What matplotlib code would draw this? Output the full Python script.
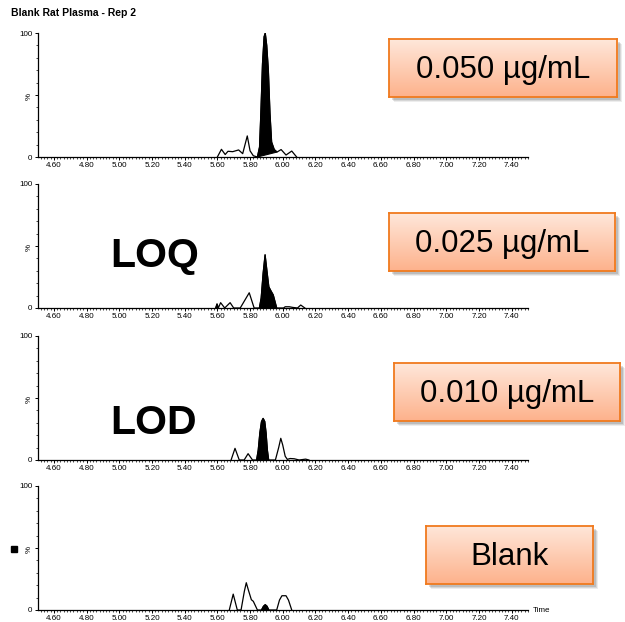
"""Stacked chromatograms (0.050 / 0.025 / 0.010 ug/mL and blank) in rat plasma."""
import numpy as np
import matplotlib
matplotlib.use("Agg")
import matplotlib.pyplot as plt
from matplotlib.colors import LinearSegmentedColormap
from matplotlib.patches import Rectangle

plt.rcParams["font.family"] = ["Liberation Sans", "DejaVu Sans"]

W, H = 625, 622

TITLE = "Blank Rat Plasma - Rep 2"
X_TICKS = [4.6, 4.8, 5.0, 5.2, 5.4, 5.6, 5.8, 6.0, 6.2, 6.4, 6.6, 6.8, 7.0, 7.2, 7.4]
X_TICK_LABELS = ["4.60", "4.80", "5.00", "5.20", "5.40", "5.60", "5.80", "6.00",
                 "6.20", "6.40", "6.60", "6.80", "7.00", "7.20", "7.40"]

# retention time (min) and relative intensity (%)
t_050 = [5.600, 5.625, 5.648, 5.665, 5.694, 5.730, 5.755, 5.783, 5.800, 5.820,
         5.845, 5.858, 5.866, 5.876, 5.886, 5.893, 5.902, 5.912, 5.922, 5.932,
         5.948, 5.965, 5.990, 6.020, 6.055, 6.085]
y_050 = [0, 6.2, 2, 4.6, 4.3, 5.7, 2.7, 17, 5, 1,
         0, 8, 35, 75, 97, 100, 90, 70, 35, 12,
         6, 4, 6, 1.6, 4.8, 0]
peaks_050 = [(5.845, 5.965)]

t_025 = [5.590, 5.598, 5.606, 5.620, 5.645, 5.678, 5.700, 5.740, 5.795, 5.825,
         5.857, 5.868, 5.880, 5.892, 5.905, 5.915, 5.927, 5.942, 5.963, 6.005,
         6.015, 6.040, 6.060, 6.090, 6.110, 6.135]
y_025 = [0, 3.3, 0, 4.3, 0, 4.3, 0, 0, 12.3, 0,
         0, 8, 28, 43, 28, 17, 14, 10.5, 0, 0,
         1, 1, 0.5, 0, 2.4, 0]
peaks_025 = [(5.590, 5.606), (5.857, 5.963)]

t_010 = [5.684, 5.708, 5.734, 5.764, 5.788, 5.815, 5.840, 5.850, 5.860, 5.870,
         5.880, 5.890, 5.898, 5.906, 5.914, 5.955, 5.975, 5.988, 6.000, 6.015,
         6.028, 6.045, 6.070, 6.100, 6.140, 6.160]
y_010 = [0, 9.4, 0, 0, 5.1, 0, 0, 8, 22, 31,
         33.6, 31, 22, 8, 0, 0, 10, 17.5, 12, 3,
         0.5, 1.2, 1, 0, 0.7, 0]
peaks_010 = [(5.840, 5.914)]

t_blank = [5.673, 5.697, 5.722, 5.745, 5.765, 5.777, 5.790, 5.808, 5.820, 5.845,
           5.870, 5.882, 5.893, 5.904, 5.915, 5.963, 5.980, 5.995, 6.020, 6.035,
           6.055]
y_blank = [0, 12.8, 0, 0, 15, 22, 16, 8.3, 7, 0,
           0, 3, 4.3, 3, 0, 0, 8, 11.5, 11.5, 8,
           0]
peaks_blank = [(5.870, 5.915)]

CONC_LABELS = ["0.050 µg/mL", "0.025 µg/mL", "0.010 µg/mL", "Blank"]
LIMIT_LABELS = ["", "LOQ", "LOD", ""]

TRACES = [(t_050, y_050, peaks_050), (t_025, y_025, peaks_025),
          (t_010, y_010, peaks_010), (t_blank, y_blank, peaks_blank)]

# pixel layout: (y of 0 %, y of 100 %) for each panel, plus label boxes
PANEL_Y = [(157, 33), (308, 184), (460, 336), (610, 486)]
AX_X = (37.5, 528)
BOXES = [(389, 39, 617, 97), (389, 213, 615, 271), (394, 363, 620, 421), (426, 526, 593, 584)]
LIMIT_POS = [None, (155, 267), (154, 434), None]


def px_rect(x0, y0, x1, y1):
    return [x0 / W, 1 - y1 / H, (x1 - x0) / W, (y1 - y0) / H]


fig = plt.figure(figsize=(W / 100, H / 100), dpi=100)

for i, (t, y, peaks) in enumerate(TRACES):
    y0, y1 = PANEL_Y[i]
    ax = fig.add_axes(px_rect(AX_X[0], y1, AX_X[1], y0))
    t = np.asarray(t)
    y = np.asarray(y)
    ax.plot(t, y, color="black", lw=0.9, solid_joinstyle="round")
    for start, end in peaks:
        m = (t >= start) & (t <= end)
        ax.fill(t[m], y[m], color="black", lw=0.8)

    ax.set_xlim(4.5, 7.5)
    ax.set_ylim(0, 100)
    for s in ("top", "right"):
        ax.spines[s].set_visible(False)
    for s in ("left", "bottom"):
        ax.spines[s].set_linewidth(0.9)

    ax.set_xticks(X_TICKS)
    ax.set_xticklabels(X_TICK_LABELS)
    ax.set_xticks(np.arange(4.52, 7.5, 0.02), minor=True)
    ax.set_yticks([0, 50, 100])
    ax.set_yticklabels(["0", "%", "100"])
    ax.get_yticklabels()[1].set_rotation(90)
    ax.set_yticks(np.arange(10, 100, 10), minor=True)
    ax.tick_params(which="major", length=2.5, width=0.7, labelsize=5.8, pad=1.2, direction="out")
    ax.tick_params(which="minor", length=1.4, width=0.5, direction="out")

    # concentration box with drop shadow and vertical gradient
    bx0, by0, bx1, by1 = BOXES[i]
    for k, a in ((5, 0.10), (4, 0.15), (3, 0.2)):
        fig.patches.append(Rectangle(((bx0 + k) / W, 1 - (by1 + k) / H),
                                     (bx1 - bx0) / W, (by1 - by0) / H,
                                     transform=fig.transFigure, color="#555555",
                                     alpha=a, lw=0, zorder=1))
    bax = fig.add_axes(px_rect(bx0, by0, bx1, by1), zorder=5)
    cmap = LinearSegmentedColormap.from_list("peach", ["#FFE7DA", "#FDB28C"])
    bax.imshow(np.linspace(0, 1, 64).reshape(-1, 1), cmap=cmap, aspect="auto",
               extent=[0, 1, 0, 1], origin="upper")
    bax.set_xticks([])
    bax.set_yticks([])
    for s in bax.spines.values():
        s.set_color("#F07A1E")
        s.set_linewidth(1.3)
    bax.text(0.5, 0.47, CONC_LABELS[i], ha="center", va="center", fontsize=22.5,
             transform=bax.transAxes)

    if LIMIT_LABELS[i]:
        lx, ly = LIMIT_POS[i]
        fig.text(lx / W, 1 - ly / H, LIMIT_LABELS[i], ha="center", va="baseline",
                 fontsize=29.5, fontweight="bold")

fig.text(11 / W, 1 - 13 / H, TITLE, ha="left", va="center", fontsize=7.5, fontweight="bold")
fig.text(533 / W, 1 - 610 / H, "Time", ha="left", va="center", fontsize=5.8)
fig.patches.append(Rectangle((11 / W, 1 - 552 / H), 6 / W, 6 / H,
                             transform=fig.transFigure, color="black", zorder=3))

fig.savefig("out.png", dpi=100)
